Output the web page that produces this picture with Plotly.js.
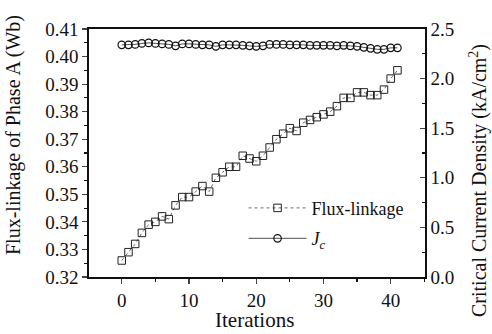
<!DOCTYPE html>
<html>
<head>
<meta charset="utf-8">
<script src="https://cdn.plot.ly/plotly-3.0.1.min.js"></script>
<style>html,body{margin:0;padding:0;background:#fff;}#chart{width:492px;height:334px;}</style>
</head>
<body>
<div id="chart"></div>
<script>
const iterations = [0,1,2,3,4,5,6,7,8,9,10,11,12,13,14,15,16,17,18,19,20,21,22,23,24,25,26,27,28,29,30,31,32,33,34,35,36,37,38,39,40,41];
const fluxLinkage = [0.326,0.329,0.332,0.336,0.339,0.340,0.342,0.341,0.346,0.349,0.349,0.351,0.353,0.351,0.356,0.358,0.360,0.360,0.364,0.363,0.362,0.364,0.367,0.370,0.372,0.374,0.373,0.376,0.377,0.378,0.379,0.380,0.382,0.385,0.385,0.387,0.387,0.386,0.386,0.388,0.392,0.395];
const jc = [2.34,2.34,2.345,2.355,2.36,2.355,2.35,2.345,2.33,2.35,2.35,2.345,2.34,2.34,2.325,2.34,2.34,2.34,2.335,2.33,2.325,2.33,2.345,2.345,2.345,2.34,2.34,2.34,2.335,2.335,2.335,2.335,2.33,2.335,2.33,2.325,2.315,2.305,2.295,2.295,2.31,2.31];
const seriesNames = ['Flux-linkage','<i>J<sub>c</sub></i>'];
const xTitle = 'Iterations';
const yTitle = 'Flux-linkage of Phase A (Wb)';
const y2Title = 'Critical Current Density (kA/cm<sup>2</sup>)';

const fam = "'Liberation Serif', 'Times New Roman', Times, serif";
const ink = '#111';

const traces = [
  {x:iterations, y:fluxLinkage, name:seriesNames[0], type:'scatter', mode:'lines+markers',
   legendgroup:'a',
   line:{color:'#444', width:0.8, dash:'dot'},
   marker:{symbol:'square-open', size:7.5, color:'#222', line:{width:1}}},
  {x:iterations, y:jc, name:seriesNames[1], type:'scatter', mode:'lines+markers', yaxis:'y2',
   legendgroup:'b',
   line:{color:'#222', width:0.8},
   marker:{symbol:'circle-open', size:7.5, color:ink, line:{width:1.2}}}
];

const layout = {
  width:492, height:334,
  margin:{l:89, r:67, t:29, b:57},
  paper_bgcolor:'#fff', plot_bgcolor:'#fff',
  font:{family:fam, color:ink, size:19},
  showlegend:true,
  legend:{x:0.46, y:0.352, xanchor:'left', yanchor:'top', bgcolor:'rgba(0,0,0,0)', itemwidth:58,
          font:{family:fam, size:18, color:ink}, traceorder:'grouped', tracegroupgap:4},
  xaxis:{range:[-4.87,45.1], dtick:10, tick0:0, ticks:'outside', ticklen:5, tickwidth:1.2,
         showline:true, linecolor:ink, linewidth:1.8, mirror:true, showgrid:false, zeroline:false,
         minor:{dtick:5, tick0:0, ticks:'outside', ticklen:3, tickcolor:ink},
         tickfont:{family:fam, size:19, color:ink}},
  yaxis:{range:[0.32,0.41], dtick:0.01, tick0:0.32, tickformat:'.2f', ticks:'outside', ticklen:5, tickwidth:1.2,
         showline:true, linecolor:ink, linewidth:1.8, showgrid:false, zeroline:false,
         minor:{dtick:0.005, ticks:'outside', ticklen:3, tickcolor:ink},
         tickfont:{family:fam, size:19, color:ink}},
  yaxis2:{range:[0,2.5], dtick:0.5, tick0:0, tickformat:'.1f', overlaying:'y', side:'right',
          ticks:'inside', ticklen:5, tickwidth:1.2,
          showline:true, linecolor:ink, linewidth:1.8, showgrid:false, zeroline:false,
          minor:{dtick:0.25, ticks:'inside', ticklen:3, tickcolor:ink},
          tickfont:{family:fam, size:19, color:ink}},
  annotations:[
    {text:xTitle, xref:'paper', yref:'paper', x:0.494, y:-0.172, xanchor:'center', yanchor:'middle',
     showarrow:false, font:{family:fam, size:21, color:ink}},
    {text:yTitle, xref:'paper', yref:'paper', x:-0.2232, y:0.5726, xanchor:'center', yanchor:'middle',
     textangle:-90, showarrow:false, font:{family:fam, size:20, color:ink}},
    {text:y2Title, xref:'paper', yref:'paper', x:1.1577, y:0.391, xanchor:'center', yanchor:'middle',
     textangle:-90, showarrow:false, font:{family:fam, size:20, color:ink}}
  ]
};

Plotly.newPlot('chart', traces, layout, {staticPlot:true, displayModeBar:false});
</script>
</body>
</html>
